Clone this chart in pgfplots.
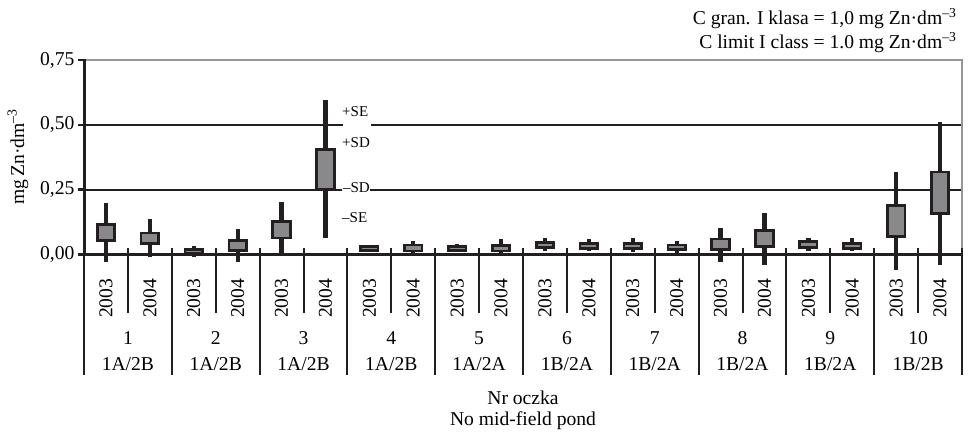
\documentclass[border=0pt]{standalone}
\usepackage{fontspec}
\setmainfont{Liberation Serif}
\usepackage{pgfplots}
\pgfplotsset{compat=1.18}
\usepackage{pgfplotstable}
\usepgfplotslibrary{statistics}

\definecolor{ink}{RGB}{35,31,32}
\definecolor{boxgray}{RGB}{137,137,140}
\definecolor{framegray}{RGB}{150,150,150}

\newcommand{\lbl}{\fontsize{19.6}{22}\selectfont}
\newcommand{\sm}{\fontsize{15}{17}\selectfont}

% pos: category index; lw/uw: whisker ends; lq/uq: box ends
\pgfplotstableread{
pos lw lq uq uw
0 -0.030 0.055 0.115 0.199
1 -0.009 0.042 0.083 0.137
2 -0.009 0.003 0.019 0.032
3 -0.030 0.015 0.055 0.099
4 0.000 0.064 0.128 0.203
5 0.062 0.250 0.406 0.596
6 0.008 0.016 0.030 0.038
7 0.006 0.014 0.037 0.051
8 0.008 0.015 0.030 0.040
9 0.006 0.013 0.036 0.058
10 0.015 0.026 0.047 0.062
11 0.015 0.024 0.042 0.058
12 0.009 0.024 0.042 0.063
13 0.006 0.019 0.037 0.051
14 -0.030 0.019 0.060 0.103
15 -0.042 0.030 0.092 0.160
16 0.015 0.027 0.051 0.063
17 0.012 0.024 0.042 0.063
18 -0.058 0.070 0.188 0.320
19 -0.042 0.158 0.318 0.510
}\zndata

\newcommand{\grp}[3]{%
  \node[font=\lbl] at ({84+87.8*(#1-0.5)},99) {#2};
  \node[font=\lbl] at ({84+87.8*(#1-0.5)},73) {#3};}

\begin{document}
\begin{tikzpicture}[x=1pt,y=1pt]
\useasboundingbox (0,0) rectangle (971,437);
\begin{axis}[
  at={(84pt,182.5pt)}, anchor=south west, scale only axis,
  width=878pt, height=194.5pt,
  xmin=-0.5, xmax=19.5, ymin=0, ymax=0.75, clip=false,
  axis line style={draw=none},
  ytick={0,0.25,0.5,0.75},
  yticklabels={{0,00},{0,25},{0,50},{0,75}},
  ytick style={draw=ink, line width=2.5pt},
  ytick pos=left, tick align=outside, major tick length=6pt,
  xtick={0,...,19},
  xticklabels={2003,2004,2003,2004,2003,2004,2003,2004,2003,2004,2003,2004,2003,2004,2003,2004,2003,2004,2003,2004},
  xtick style={draw=none},
  xticklabel style={rotate=90, anchor=east, inner sep=0pt},
  xticklabel shift=18pt,
  tick label style={font=\lbl},
  boxplot/draw direction=y,
  boxplot/box extend=0.4,
  boxplot/whisker extend=0,
  boxplot/every box/.style={fill=boxgray, draw=ink, line width=2.7pt},
  boxplot/every median/.style={draw=ink, line width=2.7pt},
  boxplot/every whisker/.style={draw=ink, line width=4.3pt},
]
\draw[ink, line width=2pt] (axis cs:-0.5,0.25) -- (axis cs:19.5,0.25);
\draw[ink, line width=2pt] (axis cs:-0.5,0.5) -- (axis cs:19.5,0.5);
\draw[framegray, line width=2pt] (axis cs:-0.5,0.75) -- (axis cs:19.5,0.75) -- (axis cs:19.5,0);
\draw[ink, line width=2.5pt] (axis cs:-0.5,0) -- (axis cs:19.5,0);
\pgfplotsinvokeforeach{0,...,19}{
  \pgfplotstablegetelem{#1}{lw}\of\zndata \edef\LW{\pgfplotsretval}
  \pgfplotstablegetelem{#1}{lq}\of\zndata \edef\LQ{\pgfplotsretval}
  \pgfplotstablegetelem{#1}{uq}\of\zndata \edef\UQ{\pgfplotsretval}
  \pgfplotstablegetelem{#1}{uw}\of\zndata \edef\UW{\pgfplotsretval}
  \edef\doplot{\noexpand\addplot[ink, line width=4.3pt,
    boxplot prepared={draw position=#1,
      lower whisker=\LW, lower quartile=\LQ, median=\UQ,
      upper quartile=\UQ, upper whisker=\UW}] coordinates {};}
  \doplot
}
\end{axis}
% frame left
\draw[ink, line width=3pt] (84,378) -- (84,182.5);
% dividers
\foreach \k in {0,...,20} {
  \pgfmathsetmacro{\xx}{84+43.9*\k}
  \pgfmathtruncatemacro{\odd}{mod(\k,2)}
  \ifnum\odd=1
    \draw[ink, line width=2pt] (\xx,189.5) -- (\xx,124);
  \else
    \draw[ink, line width=2pt] (\xx,189.5) -- (\xx,62);
  \fi
}
\grp{1}{1}{1A/2B}
\grp{2}{2}{1A/2B}
\grp{3}{3}{1A/2B}
\grp{4}{4}{1A/2B}
\grp{5}{5}{1A/2A}
\grp{6}{6}{1B/2A}
\grp{7}{7}{1B/2A}
\grp{8}{8}{1B/2A}
\grp{9}{9}{1B/2A}
\grp{10}{10}{1B/2B}
% SE/SD annotations
\fill[white] (343,308.5) rectangle (371,315);
\node[anchor=west, font=\sm, inner sep=0pt] at (342,325) {+SE};
\node[anchor=west, font=\sm, inner sep=0pt] at (342,294) {+SD};
\node[anchor=west, font=\sm, inner xsep=0.8pt, inner ysep=1pt, fill=white] at (342,249) {–SD};
\node[anchor=west, font=\sm, inner sep=0pt] at (342,219) {–SE};
% titles
\node[rotate=90, font=\lbl] at (18,280) {mg\,Zn·dm\textsuperscript{–3}};
\node[anchor=base east, font=\lbl] at (960,412) {C gran. I klasa = 1,0 mg Zn·dm\textsuperscript{–3}};
\node[anchor=base east, font=\lbl] at (960,388) {C limit I class = 1.0 mg Zn·dm\textsuperscript{–3}};
\node[font=\lbl] at (523,39) {Nr oczka};
\node[font=\lbl] at (523,16) {No mid-field pond};
\end{tikzpicture}
\end{document}
